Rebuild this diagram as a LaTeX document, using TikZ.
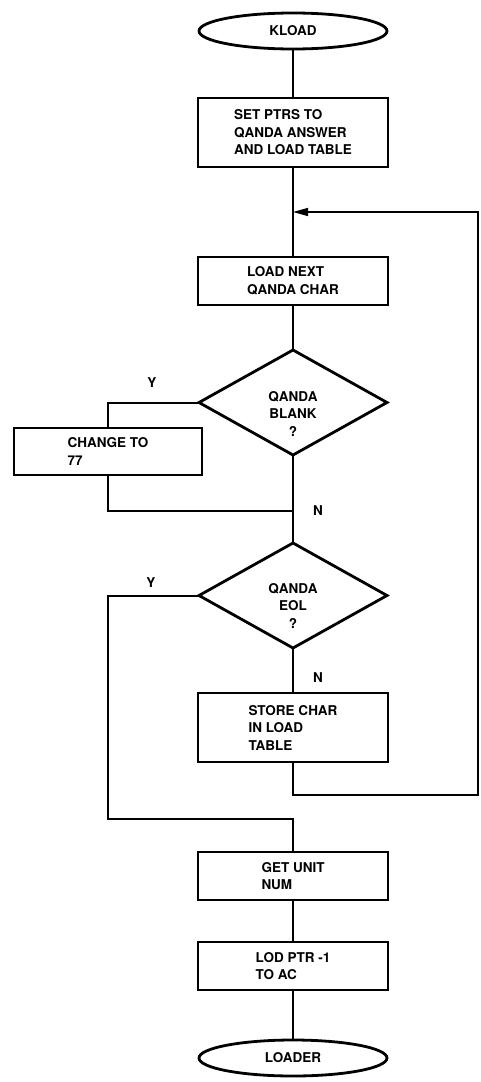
\documentclass[tikz,border=0pt]{standalone}
\usepackage{fontspec}
\newfontfamily\chartfont{TeX Gyre Heros}
\usetikzlibrary{shapes.geometric,arrows.meta,positioning}

\begin{document}
\begin{tikzpicture}[
    x=1pt, y=-1pt,
    node distance=45pt,
    every node/.style={outer sep=0pt, font=\chartfont\bfseries\fontsize{13.5pt}{17.5pt}\selectfont},
    box/.style={rectangle, draw, line width=2.8pt, minimum width=190pt, minimum height=48pt, align=left},
    terminal/.style={ellipse, draw, line width=2.8pt, minimum width=188pt, minimum height=36pt, inner sep=0pt},
    decision/.style={diamond, draw, line width=2.8pt, minimum width=188pt, minimum height=105pt, inner sep=0pt},
    dtext/.style={align=center},
    flow/.style={line width=2pt},
    loopback/.style={line width=1.3pt}
]
    \useasboundingbox (0,0) rectangle (480,1082);

    \node[terminal] (kload) at (293,31) {KLOAD};
    \node[box, minimum height=69pt, below=49pt of kload] (setptrs) {SET PTRS TO\\QANDA ANSWER\\AND LOAD TABLE};
    \node[box, below=90pt of setptrs] (loadnext) {LOAD NEXT\\QANDA CHAR};
    \node[decision, below=of loadnext] (blank) {};
    \node[dtext] (blanktxt) at ([yshift=-11pt]blank.center) {QANDA\\BLANK\\?};
    \node[box, minimum width=188pt, minimum height=47pt] (change) at (108,451.5) {CHANGE TO\\77};
    \node[decision, below=88pt of blank] (eol) {};
    \node[dtext] (eoltxt) at ([yshift=-10pt]eol.center) {QANDA\\EOL\\?};
    \node[box, minimum height=69pt, below=of eol] (store) {STORE CHAR\\IN LOAD\\TABLE};
    \node[box, below=90pt of store] (getunit) {GET UNIT\\NUM};
    \node[box, below=42pt of getunit] (lodptr) {LOD PTR -1\\TO AC};
    \node[terminal, below=50pt of lodptr] (loader) {LOADER};

    % Branch labels
    \node (ylab1) at ([xshift=-47pt,yshift=20pt]blank.west) {Y};
    \node (ylab2) at ([xshift=-48pt,yshift=13pt]eol.west) {Y};
    \coordinate (njoin) at ([yshift=-56pt]blank.south);
    \node (nlab1) at ([xshift=25pt]njoin) {N};
    \node (nlab2) at ([xshift=25pt,yshift=-30pt]eol.south) {N};

    % Junction points
    \coordinate (merge) at ([yshift=-45pt]setptrs.south);
    \coordinate (loopdown) at ([yshift=-33pt]store.south);
    \coordinate (yjoin) at ([yshift=33pt]getunit.north);

    \draw[flow] (kload) -- (setptrs);
    \draw[flow] (setptrs) -- (loadnext);
    \draw[flow] (loadnext) -- (blank);
    \draw[flow] (blank.west) -| (change.north);
    \draw[flow] (change.south) |- (njoin);
    \draw[flow] (blank.south) -- (eol.north);
    \draw[flow] (eol) -- (store);
    \draw[flow] (eol.west) -| (change.south |- yjoin) -| (getunit.north);
    \draw[loopback, -{Triangle[length=15pt,width=8pt]}] (store.south) |- ([xshift=185pt]loopdown) |- (merge);
    \draw[flow] (getunit) -- (lodptr);
    \draw[flow] (lodptr) -- (loader);
\end{tikzpicture}
\end{document}
